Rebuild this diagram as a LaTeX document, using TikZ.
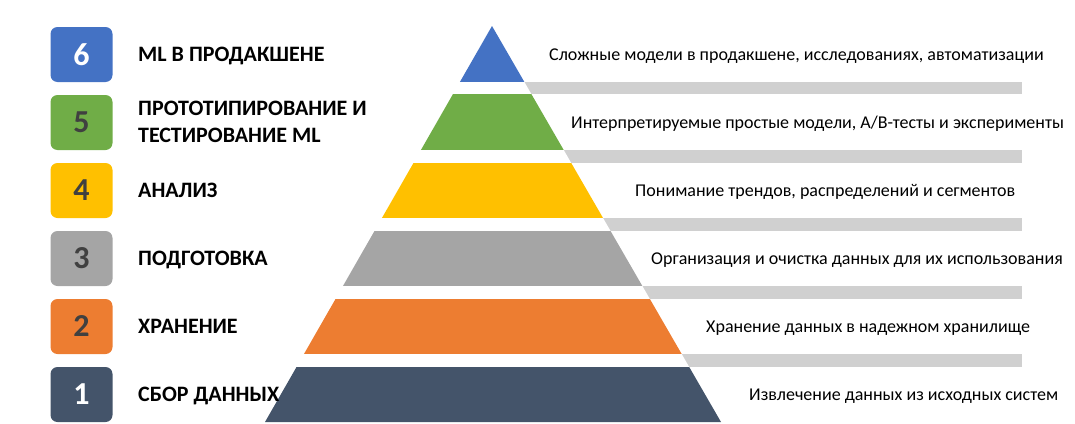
\documentclass[tikz,border=0pt]{standalone}
\usepackage{fontspec}
\setmainfont{Carlito}
\usepackage{tikz}
\definecolor{lvlblue}{HTML}{4472C4}
\definecolor{lvlgreen}{HTML}{70AD47}
\definecolor{lvlyellow}{HTML}{FFC000}
\definecolor{lvlgray}{HTML}{A5A5A5}
\definecolor{lvlorange}{HTML}{ED7D31}
\definecolor{lvlnavy}{HTML}{44546A}
\definecolor{numdark}{HTML}{404040}
\definecolor{barlight}{HTML}{D0D0D0}
\tikzset{
  numbox/.style={rounded corners=7pt, minimum width=62pt, minimum height=55pt, inner sep=0pt, font=\bfseries\fontsize{32}{32}\selectfont},
  stagelabel/.style={anchor=base west, inner sep=0pt, align=left, font=\bfseries\fontsize{22}{27}\selectfont},
  stagedesc/.style={anchor=base west, inner sep=0pt, font=\fontsize{18}{22}\selectfont}
}
\begin{document}
\begin{tikzpicture}[x=1pt, y=-1pt]
\useasboundingbox (0,0) rectangle (1075,423);
\coordinate (apex) at (492,26);
\coordinate (baseL) at (265,422);
\coordinate (baseR) at (721,422);
% grey bars between the levels
\fill[barlight] (492,82) rectangle (1022,94);
\fill[barlight] (492,150) rectangle (1022,163);
\fill[barlight] (492,218) rectangle (1022,231);
\fill[barlight] (492,286) rectangle (1022,299);
\fill[barlight] (492,354) rectangle (1022,367);
\fill[white] (apex) -- (baseL) -- (baseR) -- cycle;
% pyramid levels
\begin{scope}
\clip (apex) -- (baseL) -- (baseR) -- cycle;
\fill[lvlblue] (250,20) rectangle (750,82);
\fill[lvlgreen] (250,94) rectangle (750,150);
\fill[lvlyellow] (250,163) rectangle (750,218);
\fill[lvlgray] (250,231) rectangle (750,286);
\fill[lvlorange] (250,299) rectangle (750,354);
\fill[lvlnavy] (250,367) rectangle (750,430);
\end{scope}
% numbers
\node[numbox, fill=lvlblue, text=white] (num6) at (81.5,54.5) {6};
\node[numbox, fill=lvlgreen, text=numdark] (num5) at (81.5,122.5) {5};
\node[numbox, fill=lvlyellow, text=numdark] (num4) at (81.5,190.5) {4};
\node[numbox, fill=lvlgray, text=numdark] (num3) at (81.5,258.5) {3};
\node[numbox, fill=lvlorange, text=numdark] (num2) at (81.5,326.5) {2};
\node[numbox, fill=lvlnavy, text=white] (num1) at (81.5,394.5) {1};
% stage names
\node[stagelabel] (lab6) at (138,61.5) {ML В ПРОДАКШЕНЕ};
\node[stagelabel] (lab5) at (138,142.5) {ПРОТОТИПИРОВАНИЕ И\\ТЕСТИРОВАНИЕ ML};
\node[stagelabel] (lab4) at (138,197.5) {АНАЛИЗ};
\node[stagelabel] (lab3) at (138,265.5) {ПОДГОТОВКА};
\node[stagelabel] (lab2) at (138,333.5) {ХРАНЕНИЕ};
\node[stagelabel] (lab1) at (138,401.5) {СБОР ДАННЫХ};
% descriptions
\node[stagedesc] (desc6) at (549,60.5) {Сложные модели в продакшене, исследованиях, автоматизации};
\node[stagedesc] (desc5) at (571,128.5) {Интерпретируемые простые модели, A/B-тесты и эксперименты};
\node[stagedesc] (desc4) at (635,196.5) {Понимание трендов, распределений и сегментов};
\node[stagedesc] (desc3) at (651,264.5) {Организация и очистка данных для их использования};
\node[stagedesc] (desc2) at (706,332.5) {Хранение данных в надежном хранилище};
\node[stagedesc] (desc1) at (749,400.5) {Извлечение данных из исходных систем};
\end{tikzpicture}
\end{document}
